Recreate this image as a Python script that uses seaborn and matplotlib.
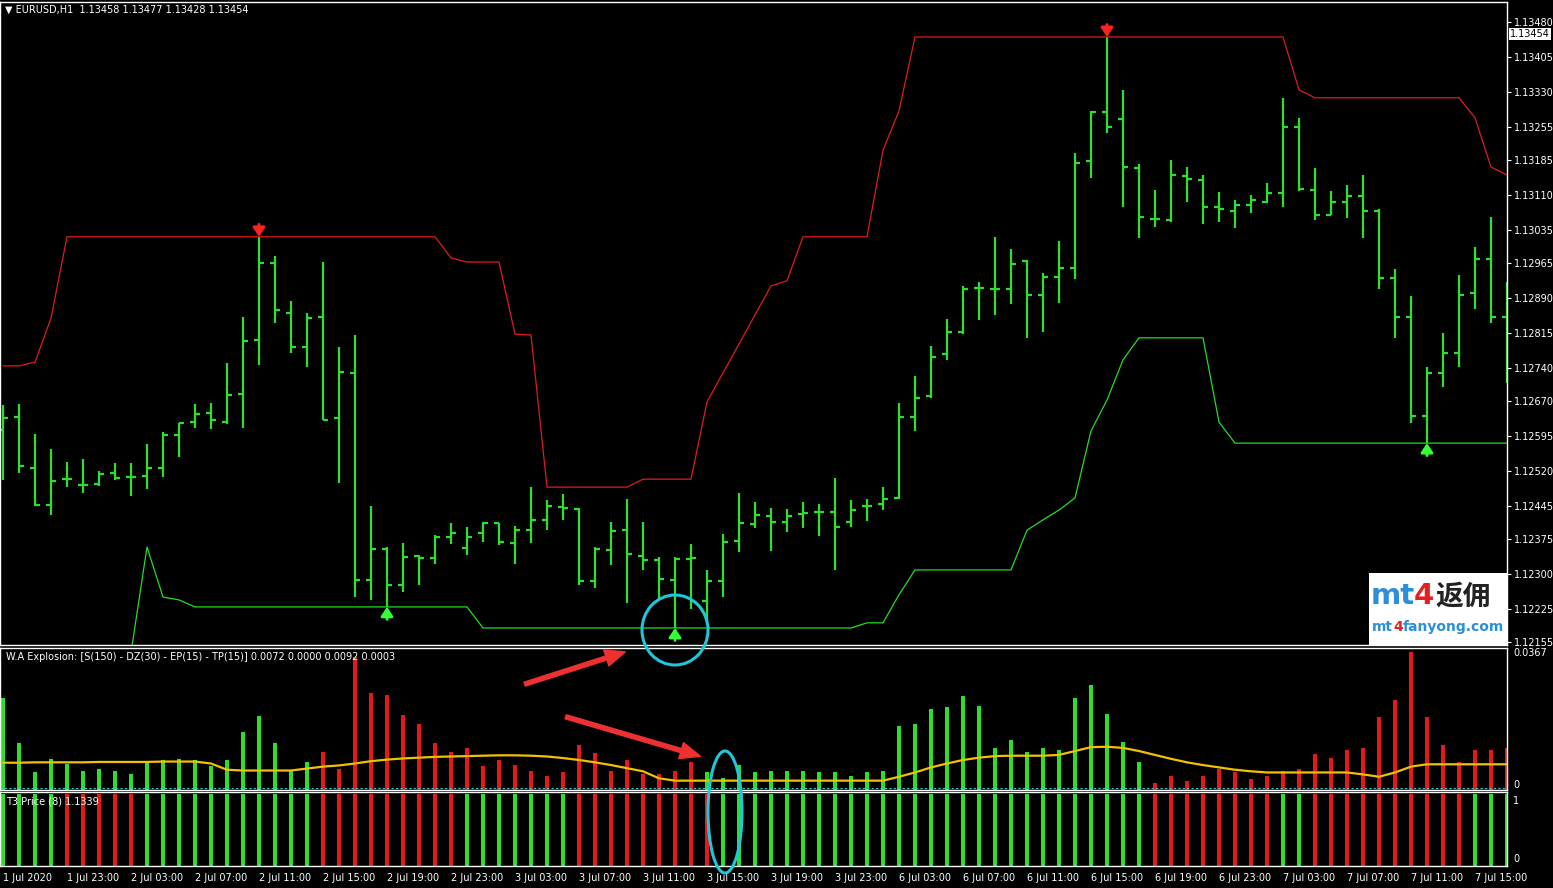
import numpy as np
import pandas as pd
import matplotlib.pyplot as plt
from matplotlib.patches import Ellipse, Rectangle, FancyArrowPatch
from matplotlib.text import Annotation
import seaborn as sns

# EURUSD H1, one entry per bar (1 Jul 19:00 -> 7 Jul 17:00)
opens = [1.12608, 1.12636, 1.12527, 1.12448, 1.12503, 1.12491, 1.12493, 1.12516, 1.12508, 1.12510,
         1.12527, 1.12597, 1.12625, 1.12644, 1.12625, 1.12685, 1.12800, 1.12965, 1.12858, 1.12785,
         1.12850, 1.12634, 1.12730, 1.12288, 1.12354, 1.12277, 1.12339, 1.12335, 1.12379, 1.12356,
         1.12388, 1.12409, 1.12367, 1.12394, 1.12416, 1.12444, 1.12439, 1.12285, 1.12352, 1.12394,
         1.12339, 1.12330, 1.12288, 1.12332, 1.12243, 1.12285, 1.12371, 1.12407, 1.12424, 1.12412,
         1.12429, 1.12433, 1.12433, 1.12412, 1.12446, 1.12450, 1.12463, 1.12636, 1.12681, 1.12771,
         1.12818, 1.12912, 1.12909, 1.12909, 1.12969, 1.12897, 1.12935, 1.12954, 1.13183, 1.13288,
         1.13273, 1.13168, 1.13059, 1.13057, 1.13151, 1.13142, 1.13085, 1.13076, 1.13089, 1.13095,
         1.13115, 1.13256, 1.13121, 1.13068, 1.13095, 1.13108, 1.13076, 1.12933, 1.12850, 1.12638,
         1.12730, 1.12773, 1.12901, 1.12974, 1.12850]
highs = [1.12662, 1.12664, 1.12600, 1.12567, 1.12540, 1.12546, 1.12521, 1.12538, 1.12538, 1.12578,
         1.12604, 1.12623, 1.12664, 1.12666, 1.12751, 1.12850, 1.13021, 1.12980, 1.12884, 1.12858,
         1.12967, 1.12785, 1.12811, 1.12446, 1.12358, 1.12367, 1.12341, 1.12384, 1.12409, 1.12401,
         1.12412, 1.12409, 1.12403, 1.12486, 1.12459, 1.12471, 1.12441, 1.12358, 1.12412, 1.12461,
         1.12412, 1.12337, 1.12337, 1.12365, 1.12309, 1.12386, 1.12473, 1.12454, 1.12441, 1.12439,
         1.12454, 1.12450, 1.12506, 1.12459, 1.12461, 1.12486, 1.12666, 1.12724, 1.12788, 1.12845,
         1.12916, 1.12924, 1.13021, 1.12995, 1.12971, 1.12944, 1.13012, 1.13200, 1.13290, 1.13448,
         1.13335, 1.13177, 1.13121, 1.13185, 1.13170, 1.13153, 1.13117, 1.13100, 1.13110, 1.13136,
         1.13318, 1.13275, 1.13168, 1.13119, 1.13132, 1.13153, 1.13080, 1.12952, 1.12894, 1.12743,
         1.12815, 1.12939, 1.12999, 1.13063, 1.12924]
lows = [1.12501, 1.12516, 1.12446, 1.12426, 1.12486, 1.12473, 1.12488, 1.12501, 1.12467, 1.12482,
        1.12508, 1.12550, 1.12612, 1.12610, 1.12621, 1.12612, 1.12747, 1.12837, 1.12773, 1.12743,
        1.12630, 1.12495, 1.12251, 1.12245, 1.12230, 1.12262, 1.12277, 1.12322, 1.12365, 1.12341,
        1.12369, 1.12362, 1.12322, 1.12367, 1.12394, 1.12416, 1.12277, 1.12270, 1.12320, 1.12238,
        1.12309, 1.12243, 1.12185, 1.12226, 1.12191, 1.12251, 1.12347, 1.12399, 1.12350, 1.12390,
        1.12399, 1.12382, 1.12309, 1.12401, 1.12414, 1.12437, 1.12461, 1.12606, 1.12677, 1.12758,
        1.12813, 1.12843, 1.12854, 1.12877, 1.12805, 1.12818, 1.12880, 1.12931, 1.13147, 1.13243,
        1.13085, 1.13018, 1.13042, 1.13053, 1.13095, 1.13048, 1.13053, 1.13040, 1.13072, 1.13093,
        1.13085, 1.13119, 1.13057, 1.13068, 1.13061, 1.13018, 1.12909, 1.12805, 1.12623, 1.12580,
        1.12700, 1.12743, 1.12867, 1.12837, 1.12709]
closes = [1.12634, 1.12531, 1.12448, 1.12499, 1.12503, 1.12491, 1.12514, 1.12506, 1.12508, 1.12527,
          1.12597, 1.12623, 1.12642, 1.12630, 1.12683, 1.12798, 1.12965, 1.12865, 1.12785, 1.12847,
          1.12630, 1.12732, 1.12288, 1.12354, 1.12277, 1.12337, 1.12335, 1.12379, 1.12388, 1.12379,
          1.12409, 1.12369, 1.12394, 1.12416, 1.12446, 1.12441, 1.12285, 1.12354, 1.12392, 1.12343,
          1.12330, 1.12290, 1.12332, 1.12335, 1.12285, 1.12369, 1.12409, 1.12426, 1.12412, 1.12424,
          1.12431, 1.12433, 1.12401, 1.12437, 1.12446, 1.12461, 1.12636, 1.12677, 1.12764, 1.12818,
          1.12909, 1.12912, 1.12909, 1.12963, 1.12897, 1.12935, 1.12954, 1.13179, 1.13288, 1.13256,
          1.13170, 1.13063, 1.13059, 1.13153, 1.13145, 1.13085, 1.13080, 1.13089, 1.13100, 1.13115,
          1.13256, 1.13123, 1.13068, 1.13095, 1.13108, 1.13076, 1.12933, 1.12850, 1.12638, 1.12730,
          1.12773, 1.12897, 1.12974, 1.12850, 1.12886]

# channel lines
upper_band = ([1.12745, 1.12745, 1.12753, 1.12847] + [1.13021] * 24 + [1.12976] + [1.12967] * 3
              + [1.12813, 1.12811] + [1.12486] * 6 + [1.12503] * 4
              + [1.12668, 1.12730, 1.12792, 1.12854, 1.12916, 1.12927] + [1.13021] * 5
              + [1.13206, 1.13290] + [1.13448] * 24 + [1.13335] + [1.13318] * 10
              + [1.13275, 1.13170, 1.13153])
lower_band = ([None] * 8 + [1.12132, 1.12358, 1.12251, 1.12245] + [1.12230] * 18 + [1.12185] * 24
              + [1.12196, 1.12196, 1.12256] + [1.12309] * 7
              + [1.12394, 1.12416, 1.12437, 1.12463, 1.12606, 1.12672, 1.12758] + [1.12805] * 5
              + [1.12625] + [1.12580] * 18)
sell_arrows = [16, 69]
buy_arrows = [24, 42, 89]

# W.A Explosion histogram + signal line
explosion = [0.0235, 0.0121, 0.0045, 0.0079, 0.0066, 0.0048, 0.0055, 0.0050, 0.0040, 0.0071,
             0.0077, 0.0079, 0.0077, 0.0061, 0.0077, 0.0148, 0.0190, 0.0121, 0.0050, 0.0071,
             0.0098, 0.0055, 0.0341, 0.0248, 0.0243, 0.0193, 0.0169, 0.0121, 0.0098, 0.0108,
             0.0061, 0.0077, 0.0063, 0.0050, 0.0037, 0.0045, 0.0116, 0.0095, 0.0050, 0.0077,
             0.0042, 0.0042, 0.0050, 0.0071, 0.0045, 0.0032, 0.0063, 0.0045, 0.0050, 0.0050,
             0.0050, 0.0045, 0.0045, 0.0037, 0.0045, 0.0050, 0.0164, 0.0169, 0.0209, 0.0214,
             0.0240, 0.0216, 0.0108, 0.0129, 0.0098, 0.0108, 0.0103, 0.0235, 0.0269, 0.0195,
             0.0124, 0.0071, 0.0018, 0.0037, 0.0024, 0.0037, 0.0055, 0.0045, 0.0029, 0.0037,
             0.0050, 0.0055, 0.0092, 0.0082, 0.0103, 0.0108, 0.0187, 0.0230, 0.0354, 0.0187,
             0.0116, 0.0071, 0.0103, 0.0103, 0.0108]
explosion_dir = ['up'] * 20 + ['down'] * 24 + ['up'] * 28 + ['down'] * 23
signal_line = [0.0070, 0.0070, 0.0071, 0.0071, 0.0071, 0.0071, 0.0072, 0.0072, 0.0072, 0.0072,
               0.0073, 0.0073, 0.0073, 0.0068, 0.0052, 0.0050, 0.0050, 0.0050, 0.0050, 0.0055,
               0.0060, 0.0063, 0.0068, 0.0074, 0.0078, 0.0081, 0.0083, 0.0085, 0.0086, 0.0087,
               0.0088, 0.0089, 0.0089, 0.0088, 0.0086, 0.0082, 0.0077, 0.0071, 0.0064, 0.0056,
               0.0048, 0.0030, 0.0024, 0.0024, 0.0024, 0.0024, 0.0024, 0.0024, 0.0024, 0.0024,
               0.0024, 0.0024, 0.0024, 0.0024, 0.0024, 0.0024, 0.0034, 0.0045, 0.0058, 0.0068,
               0.0077, 0.0083, 0.0087, 0.0088, 0.0088, 0.0088, 0.0090, 0.0100, 0.0110, 0.0111,
               0.0108, 0.0100, 0.0090, 0.0080, 0.0071, 0.0064, 0.0058, 0.0052, 0.0048, 0.0045,
               0.0045, 0.0045, 0.0045, 0.0045, 0.0045, 0.0040, 0.0034, 0.0045, 0.0060, 0.0066,
               0.0066, 0.0066, 0.0066, 0.0066, 0.0066]

# T3 Price direction (all bars = 1)
t3_dir = (['up'] * 4 + ['down'] * 5 + ['up'] * 11 + ['down'] * 9 + ['up'] * 7 + ['down'] * 9
          + ['up'] * 27 + ['down'] * 8 + ['up'] * 2 + ['down'] * 10 + ['up'] * 3)

time_labels = ['1 Jul 2020', '1 Jul 23:00', '2 Jul 03:00', '2 Jul 07:00', '2 Jul 11:00', '2 Jul 15:00',
               '2 Jul 19:00', '2 Jul 23:00', '3 Jul 03:00', '3 Jul 07:00', '3 Jul 11:00', '3 Jul 15:00',
               '3 Jul 19:00', '3 Jul 23:00', '6 Jul 03:00', '6 Jul 07:00', '6 Jul 11:00', '6 Jul 15:00',
               '6 Jul 19:00', '6 Jul 23:00', '7 Jul 03:00', '7 Jul 07:00', '7 Jul 11:00', '7 Jul 15:00']
price_ticks = [1.13480, 1.13405, 1.13330, 1.13255, 1.13185, 1.13110, 1.13035, 1.12965, 1.12890, 1.12815,
               1.12740, 1.12670, 1.12595, 1.12520, 1.12445, 1.12375, 1.12300, 1.12225, 1.12155]
last_price = 1.13454

GREEN = '#2be02b'
RED = '#e81818'
W, H = 1553, 888

sns.set_theme(style='dark')
plt.rcParams['font.family'] = ['DejaVu Sans', 'Noto Sans CJK SC']
plt.rcParams['axes.facecolor'] = 'black'
plt.rcParams['figure.facecolor'] = 'black'

df = pd.DataFrame({'bar': np.arange(len(opens)), 'open': opens, 'high': highs, 'low': lows,
                   'close': closes, 'upper': upper_band, 'lower': lower_band,
                   'expl': explosion, 'edir': explosion_dir, 'signal': signal_line, 't3dir': t3_dir})
df['lower'] = pd.to_numeric(df['lower'])
df['one'] = 1.0


def box(top, bottom):
    return [0, 1 - bottom / H, 1507 / W, (bottom - top) / H]


fig = plt.figure(figsize=(W / 100, H / 100), dpi=100)
ax = fig.add_axes(box(2, 645))
ax2 = fig.add_axes(box(648, 790))
ax3 = fig.add_axes(box(792, 866))

xlim = (-3 / 16, 1504 / 16)

# ---------------- price panel ----------------
ax.vlines(df['bar'], df['low'], df['high'], color=GREEN, lw=1.6)
ax.hlines(df['open'], df['bar'] - 0.32, df['bar'], color=GREEN, lw=1.6)
ax.hlines(df['close'], df['bar'], df['bar'] + 0.32, color=GREEN, lw=1.6)
sns.lineplot(data=df, x='bar', y='upper', ax=ax, color='#e01c1c', lw=0.9)
sns.lineplot(data=df.dropna(subset=['lower']), x='bar', y='lower', ax=ax, color='#22dd22', lw=0.9)
for i in sell_arrows:
    ax.annotate('', xy=(i, highs[i]), xytext=(0, 9), textcoords='offset points',
                arrowprops=dict(arrowstyle='-|>,head_length=0.45,head_width=0.3', color='#ff2020',
                                lw=2, shrinkA=0, shrinkB=0))
for i in buy_arrows:
    ax.annotate('', xy=(i, lows[i]), xytext=(0, -9), textcoords='offset points',
                arrowprops=dict(arrowstyle='-|>,head_length=0.45,head_width=0.3', color='#33ff33',
                                lw=2, shrinkA=0, shrinkB=0))

ax.set_xlim(xlim)
ax.set_ylim(1.121486, 1.135227)
ax.yaxis.tick_right()
ax.set_yticks(price_ticks)
ax.set_yticklabels([f'{p:.5f}' for p in price_ticks])
ax.set_xticks([])
ax.text(1.002, last_price, f'{last_price:.5f}', transform=ax.get_yaxis_transform(), fontsize=7,
        color='black', va='center', ha='left',
        bbox=dict(facecolor='white', edgecolor='none', pad=0.8))
ax.text(5 / 1507, 1 - 8 / 643, '\u25bc EURUSD,H1  1.13458 1.13477 1.13428 1.13454',
        transform=ax.transAxes, fontsize=7, color='white', va='center', ha='left')

# ---------------- W.A Explosion panel ----------------
sns.barplot(data=df, x='bar', y='expl', hue='edir', palette={'up': GREEN, 'down': RED},
            native_scale=True, dodge=False, width=0.2, saturation=1, errorbar=None,
            legend=False, linewidth=0, edgecolor='none', ax=ax2)
sns.lineplot(data=df, x='bar', y='signal', ax=ax2, color='#f2c200', lw=1.6)
ax2.axhline(0.0005, color='#3cc8c8', lw=0.8, ls=(0, (2, 2)))
ax2.set_xlim(xlim)
ax2.set_ylim(0, 0.0367 * 139 / 140)
ax2.set_xticks([])
ax2.set_yticks([])
ax2.text(1.004, 1.0, '0.0367', transform=ax2.transAxes, fontsize=7, color='white', va='top', ha='left')
ax2.text(1.004, 0.0, '0', transform=ax2.transAxes, fontsize=7, color='white', va='bottom', ha='left')
ax2.text(6 / 1507, 1 - 9 / 142, 'W.A Explosion: [S(150) - DZ(30) - EP(15) - TP(15)] 0.0072 0.0000 0.0092 0.0003',
         transform=ax2.transAxes, fontsize=7, color='white', va='center', ha='left', zorder=10)

# ---------------- T3 Price panel ----------------
sns.barplot(data=df, x='bar', y='one', hue='t3dir', palette={'up': GREEN, 'down': RED},
            native_scale=True, dodge=False, width=0.22, saturation=1, errorbar=None,
            legend=False, linewidth=0, edgecolor='none', ax=ax3)
ax3.set_xlim(xlim)
ax3.set_ylim(0, 1.03)
ax3.set_yticks([])
ax3.set_xticks(df['bar'][::4])
ax3.set_xticklabels(time_labels, ha='left')
ax3.text(1.004, 0.95, '1', transform=ax3.transAxes, fontsize=7, color='white', va='top', ha='left')
ax3.text(1.004, 0.03, '0', transform=ax3.transAxes, fontsize=7, color='white', va='bottom', ha='left')
ax3.text(6 / 1507, 1 - 9 / 74, 'T3 Price (8) 1.1339', transform=ax3.transAxes, fontsize=7,
         color='white', va='center', ha='left', zorder=10)

for a in (ax, ax2, ax3):
    a.set_xlabel('')
    a.set_ylabel('')
    a.grid(False)
    a.set_facecolor('black')
    for s in a.spines.values():
        s.set_color('white')
        s.set_linewidth(1)
        s.set_visible(True)
    a.tick_params(axis='both', colors='white', labelcolor='white', labelsize=7,
                  length=3, width=0.8, pad=2, direction='out')

# ---------------- overlays (watermark + hand-drawn marks) ----------------
def fx(x):
    return x / W


def fy(y):
    return 1 - y / H


def chain(prev, s, size, color, gap=0, **kw):
    # put a text piece right after the previous one, on the figure level
    a = Annotation(s, xy=(1, 0.5), xycoords=prev, xytext=(gap, 0), textcoords='offset points',
                   va='center', ha='left', fontsize=size, fontweight='bold', color=color,
                   annotation_clip=False, zorder=6, **kw)
    fig.add_artist(a)
    return a


fig.add_artist(Rectangle((fx(1369), fy(645)), 138 / W, 72 / H, transform=fig.transFigure,
                         facecolor='white', edgecolor='none', zorder=5))
t = fig.text(fx(1371), fy(596), 'mt', fontsize=21, fontweight='bold', color='#2c8fd8', va='center', zorder=6)
t = chain(t, '4', 21, '#e42020', gap=-1)
chain(t, '返佣', 20, '#222222', gap=1, family=['Noto Sans CJK SC'])
t = fig.text(fx(1372), fy(627), 'mt', fontsize=10, fontweight='bold', color='#2c8fd8', va='center', zorder=6)
t = chain(t, '4', 10, '#e42020')
chain(t, 'fanyong.com', 10, '#2c8fd8')

for (x0, y0), (x1, y1) in [((522, 685), (628, 651)), ((563, 716), (703, 757))]:
    fig.add_artist(FancyArrowPatch((fx(x0), fy(y0)), (fx(x1), fy(y1)), transform=fig.transFigure,
                                   arrowstyle='simple,head_length=1.2,head_width=1.0,tail_width=0.25',
                                   mutation_scale=12, color='#ee3030', zorder=7))

fig.add_artist(Ellipse((fx(675), fy(630)), 66 / W, 70 / H, transform=fig.transFigure,
                       fill=False, edgecolor='#1ec8d8', lw=2.2, zorder=7))
fig.add_artist(Ellipse((fx(725), fy(812)), 34 / W, 122 / H, transform=fig.transFigure,
                       fill=False, edgecolor='#1ec8d8', lw=2.2, zorder=7))

fig.savefig('out.png', dpi=100, facecolor='black')
